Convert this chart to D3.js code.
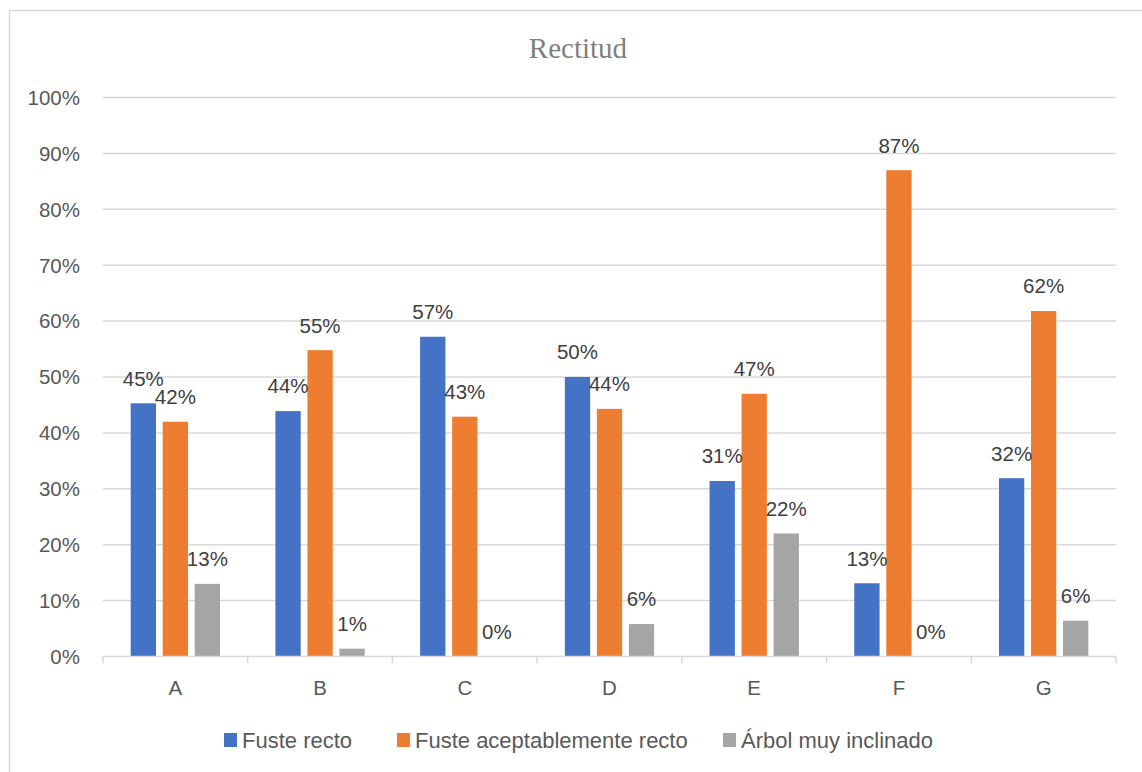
<!DOCTYPE html>
<html>
<head>
<meta charset="utf-8">
<script src="https://cdn.jsdelivr.net/npm/d3@7"></script>
<style>
  body { margin: 0; background: #fff; }
  text { font-family: "Liberation Sans", Arial, sans-serif; }
</style>
</head>
<body>
<div id="chart"></div>
<script>
// datos
const categorias = ["A", "B", "C", "D", "E", "F", "G"];
const series = ["Fuste recto", "Fuste aceptablemente recto", "Árbol muy inclinado"];
const fusteRecto = [0.453, 0.439, 0.572, 0.500, 0.314, 0.131, 0.319];
const fusteAceptable = [0.420, 0.548, 0.429, 0.443, 0.470, 0.870, 0.618];
const arbolInclinado = [0.130, 0.014, 0.000, 0.058, 0.220, 0.000, 0.064];
const ticksY = [0, 0.1, 0.2, 0.3, 0.4, 0.5, 0.6, 0.7, 0.8, 0.9, 1.0];
const colores = ["#4472C4", "#ED7D31", "#A5A5A5"];

const valores = [fusteRecto, fusteAceptable, arbolInclinado];

let width = 1142;
let height = 772;
let margin = { top: 97.5, right: 26, bottom: 115.5, left: 103 };

const svg = d3.select("#chart")
    .append("svg")
    .attr("width", width)
    .attr("height", height);

// marco del grafico
svg.append("rect")
    .attr("x", 9.5).attr("y", 10.5)
    .attr("width", 1150).attr("height", 780)
    .attr("fill", "none")
    .attr("stroke", "#d9d9d9")
    .attr("stroke-width", 1.5);

// titulo
svg.append("text")
    .attr("x", 578)
    .attr("y", 57.5)
    .attr("text-anchor", "middle")
    .style("font-family", "'Liberation Serif', 'Times New Roman', serif")
    .style("font-size", "29px")
    .attr("fill", "#7f7f7f")
    .text("Rectitud");

let x = d3.scaleBand()
    .domain(categorias)
    .range([margin.left, width - margin.right])
    .paddingInner(0).paddingOuter(0);

let x1 = d3.scaleBand()
    .domain(d3.range(series.length))
    .range([0, x.bandwidth()])
    .paddingInner(0.21)
    .paddingOuter(0.865);

let y = d3.scaleLinear()
    .domain([0, 1])
    .range([height - margin.bottom, margin.top]);

// lineas de cuadricula
svg.append("g")
    .selectAll("line")
    .data(ticksY.slice(1))
    .enter().append("line")
    .attr("x1", margin.left).attr("x2", width - margin.right)
    .attr("y1", d => y(d)).attr("y2", d => y(d))
    .attr("stroke", "#d9d9d9")
    .attr("stroke-width", 1.5);

// eje y
svg.append("g")
    .selectAll("text")
    .data(ticksY)
    .enter().append("text")
    .attr("x", 80)
    .attr("y", d => y(d))
    .attr("dy", "0.36em")
    .attr("text-anchor", "end")
    .style("font-size", "20.5px")
    .attr("fill", "#595959")
    .text(d => d3.format(".0%")(d));

// barras
let grupos = svg.selectAll(".grupo")
    .data(categorias)
    .enter().append("g")
    .attr("class", "grupo")
    .attr("transform", d => "translate(" + x(d) + ",0)");

grupos.selectAll("rect")
    .data((d, i) => valores.map((v, s) => ({ s: s, v: v[i] })))
    .enter().append("rect")
    .attr("x", d => x1(d.s))
    .attr("width", x1.bandwidth())
    .attr("y", d => y(d.v))
    .attr("height", d => y(0) - y(d.v))
    .attr("fill", d => colores[d.s]);

// etiquetas de datos
grupos.selectAll("text")
    .data((d, i) => valores.map((v, s) => ({ s: s, v: v[i] })))
    .enter().append("text")
    .attr("x", d => x1(d.s) + x1.bandwidth() / 2)
    .attr("y", d => y(d.v) - 25)
    .attr("dy", "0.36em")
    .attr("text-anchor", "middle")
    .style("font-size", "20.5px")
    .attr("fill", "#404040")
    .text(d => d3.format(".0%")(d.v));

// eje x
const ejeX = svg.append("g")
    .attr("transform", "translate(0," + y(0) + ")");

ejeX.append("line")
    .attr("x1", margin.left).attr("x2", width - margin.right)
    .attr("stroke", "#d9d9d9")
    .attr("stroke-width", 1.5);

ejeX.selectAll(".tick")
    .data(categorias.concat(["fin"]))
    .enter().append("line")
    .attr("x1", (d, i) => i < categorias.length ? x(d) : width - margin.right)
    .attr("x2", (d, i) => i < categorias.length ? x(d) : width - margin.right)
    .attr("y1", 0).attr("y2", 7)
    .attr("stroke", "#d9d9d9")
    .attr("stroke-width", 1.5);

ejeX.selectAll(".cat")
    .data(categorias)
    .enter().append("text")
    .attr("x", d => x(d) + x.bandwidth() / 2)
    .attr("y", 31)
    .attr("dy", "0.36em")
    .attr("text-anchor", "middle")
    .style("font-size", "20.5px")
    .attr("fill", "#595959")
    .text(d => d);

// leyenda
const leyendaX = [224, 397, 723];
const leyenda = svg.append("g")
    .selectAll("g")
    .data(series)
    .enter().append("g")
    .attr("transform", (d, i) => "translate(" + leyendaX[i] + ",740)");

leyenda.append("rect")
    .attr("x", 0).attr("y", -7)
    .attr("width", 13).attr("height", 14)
    .attr("fill", (d, i) => colores[i]);

leyenda.append("text")
    .attr("x", 18)
    .attr("dy", "0.36em")
    .style("font-size", "22px")
    .attr("fill", "#595959")
    .text(d => d);
</script>
</body>
</html>
